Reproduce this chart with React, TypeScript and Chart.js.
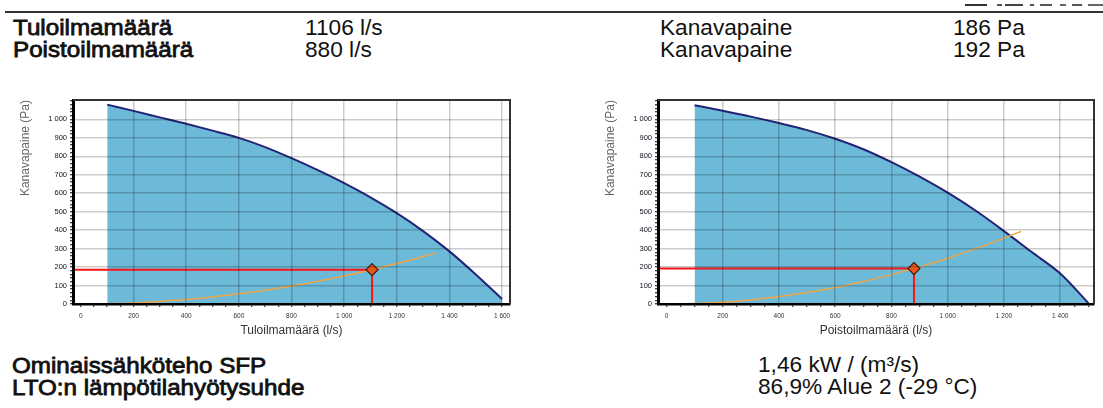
import React, { useEffect, useRef } from 'react';
import { Chart, registerables } from 'chart.js';

Chart.register(...registerables);
Chart.defaults.font.family = "'Liberation Sans', Arial, sans-serif";

// ---- Supply air (left chart) ----
const supplyFanX = [100, 200, 300, 400, 500, 600, 700, 800, 900, 1000, 1100, 1200, 1300, 1400, 1500, 1600];
const supplyFanP = [1080, 1046, 1011, 976, 939, 900, 850, 790, 725, 655, 578, 492, 395, 285, 160, 27];
const supplySysX = [0, 100, 200, 300, 400, 500, 600, 700, 800, 900, 1000, 1100, 1200, 1300, 1350];
const supplySysP = [0, 2, 6, 14, 24, 38, 55, 74, 97, 123, 152, 184, 219, 257, 277];
const supplyFlow = 1106;
const supplyPressure = 186;
const supplyXLabels = [0, 200, 400, 600, 800, 1000, 1200, 1400, 1600];

// ---- Exhaust air (right chart) ----
const exhaustFanX = [100, 200, 300, 400, 500, 600, 700, 800, 900, 1000, 1100, 1200, 1300, 1400, 1500];
const exhaustFanP = [1077, 1047, 1015, 980, 942, 895, 838, 768, 690, 603, 505, 395, 280, 165, 5];
const exhaustSysX = [0, 100, 200, 300, 400, 500, 600, 700, 800, 900, 1000, 1100, 1200, 1260];
const exhaustSysP = [0, 2.5, 10, 22, 40, 62, 89, 122, 159, 201, 248, 300, 357, 393];
const exhaustFlow = 880;
const exhaustPressure = 192;
const exhaustXLabels = [0, 200, 400, 600, 800, 1000, 1200, 1400];

const yLabels = [0, 100, 200, 300, 400, 500, 600, 700, 800, 900, 1000];

const fmt = (v: number) => String(v).replace(/\B(?=(\d{3})+(?!\d))/g, ' ');

const FILL = 'rgb(108,185,216)';
const NAVY = 'rgb(35,35,120)';
const ORANGE = 'rgb(240,165,70)';
const RED = 'rgb(250,20,20)';
const GRID = 'rgba(0,0,0,0.2)';

const framePlugin = {
  id: 'frame',
  afterDraw(chart: any) {
    const { ctx, chartArea: a } = chart;
    ctx.save();
    ctx.strokeStyle = '#333';
    ctx.lineWidth = 2;
    ctx.beginPath();
    ctx.moveTo(a.left, a.top);
    ctx.lineTo(a.right, a.top);
    ctx.lineTo(a.right, a.bottom);
    ctx.stroke();
    ctx.restore();
  },
};

type FanProps = {
  left: number;
  top: number;
  width: number;
  height: number;
  padRight: number;
  xMin: number;
  xMax: number;
  yMax: number;
  xLabels: number[];
  fanX: number[];
  fanP: number[];
  sysX: number[];
  sysP: number[];
  flow: number;
  pressure: number;
  xTitle: string;
};

function FanChart(p: FanProps) {
  const ref = useRef<HTMLCanvasElement>(null);
  useEffect(() => {
    const xMajor = new Set(p.xLabels);
    const yMajor = new Set(yLabels);
    const xMinor: number[] = [];
    for (let v = 0; v <= p.xMax; v += 50) xMinor.push(v);
    const yMinor: number[] = [];
    for (let v = 0; v <= p.yMax; v += 20) yMinor.push(v);

    const chart = new Chart(ref.current as HTMLCanvasElement, {
      type: 'line',
      data: {
        datasets: [
          {
            data: [{ x: p.flow, y: p.pressure }],
            showLine: false,
            pointStyle: 'rectRot',
            pointRadius: 6,
            pointBackgroundColor: 'rgb(235,85,25)',
            pointBorderColor: 'rgb(60,30,15)',
            pointBorderWidth: 1.2,
            order: 1,
          },
          {
            data: [
              { x: p.xMin, y: p.pressure },
              { x: p.flow, y: p.pressure },
            ],
            borderColor: RED,
            borderWidth: 2,
            pointRadius: 0,
            order: 2,
          },
          {
            data: [
              { x: p.flow, y: p.pressure },
              { x: p.flow, y: 0 },
            ],
            borderColor: RED,
            borderWidth: 2,
            pointRadius: 0,
            order: 2,
          },
          {
            data: p.sysX.map((x, i) => ({ x, y: p.sysP[i] })),
            borderColor: ORANGE,
            borderWidth: 1.5,
            pointRadius: 0,
            cubicInterpolationMode: 'monotone',
            order: 3,
          },
          {
            data: p.fanX.map((x, i) => ({ x, y: p.fanP[i] })),
            borderColor: NAVY,
            borderWidth: 2,
            backgroundColor: FILL,
            fill: 'origin',
            pointRadius: 0,
            cubicInterpolationMode: 'monotone',
            order: 4,
          },
        ],
      },
      options: {
        animation: false,
        responsive: false,
        devicePixelRatio: 1,
        layout: { padding: { top: 10, right: p.padRight, left: 0, bottom: 0 } },
        plugins: { legend: { display: false }, tooltip: { enabled: false } },
        scales: {
          x: {
            type: 'linear',
            min: p.xMin,
            max: p.xMax,
            afterBuildTicks: (axis: any) => {
              axis.ticks = xMinor.map((value) => ({ value }));
            },
            afterFit: (s: any) => {
              s.height = 36;
            },
            ticks: {
              autoSkip: false,
              maxRotation: 0,
              padding: 5,
              font: { size: 6.5 },
              color: '#333',
              callback: (v: any) => (xMajor.has(v) ? fmt(v) : ''),
            },
            grid: {
              z: 1,
              color: (c: any) => (c.tick && xMajor.has(c.tick.value) && c.tick.value !== 0 ? GRID : 'rgba(0,0,0,0)'),
              lineWidth: 1.5,
              tickLength: 3,
              tickColor: '#000',
              tickWidth: 1,
            },
            border: { color: '#000', width: 2.5, z: 2 },
            title: {
              display: true,
              text: p.xTitle,
              font: { size: 12 },
              color: '#333',
              padding: { top: 0, bottom: 2 },
            },
          },
          y: {
            type: 'linear',
            min: 0,
            max: p.yMax,
            afterBuildTicks: (axis: any) => {
              axis.ticks = yMinor.map((value) => ({ value }));
            },
            afterFit: (s: any) => {
              s.width = 73;
            },
            ticks: {
              autoSkip: false,
              padding: 3,
              font: { size: 7.5 },
              color: '#112',
              callback: (v: any) => (yMajor.has(v) ? fmt(v) : ''),
            },
            grid: {
              z: 1,
              color: (c: any) => (c.tick && yMajor.has(c.tick.value) && c.tick.value !== 0 ? GRID : 'rgba(0,0,0,0)'),
              lineWidth: 1.5,
              tickLength: 3,
              tickColor: '#000',
              tickWidth: 1,
            },
            border: { color: '#000', width: 3, z: 2 },
            title: {
              display: true,
              text: 'Kanavapaine (Pa)',
              align: 'end',
              font: { size: 12 },
              color: '#666',
              padding: { top: 18, bottom: 0 },
            },
          },
        },
      },
      plugins: [framePlugin],
    } as any);
    return () => chart.destroy();
  }, []);
  return (
    <canvas
      ref={ref}
      width={p.width}
      height={p.height}
      style={{ position: 'absolute', left: p.left, top: p.top, width: p.width, height: p.height }}
    />
  );
}

const textBase: React.CSSProperties = {
  position: 'absolute',
  fontFamily: "'Liberation Sans', Arial, sans-serif",
  fontSize: 22,
  lineHeight: '22px',
  color: '#111',
  whiteSpace: 'nowrap',
  transformOrigin: 'left center',
};

function T(props: { x: number; y: number; bold?: boolean; children: React.ReactNode }) {
  const style: React.CSSProperties = props.bold
    ? { ...textBase, left: props.x, top: props.y, transform: 'scaleX(1.1)', WebkitTextStroke: '0.8px #111' }
    : { ...textBase, left: props.x, top: props.y, transform: 'scaleX(1.03)' };
  return <div style={style}>{props.children}</div>;
}

export default function App() {
  return (
    <div
      style={{
        position: 'absolute',
        left: 0,
        top: 0,
        width: 1103,
        height: 408,
        overflow: 'hidden',
        background: '#fff',
      }}
    >
      {/* cut-off fragments at the top right */}
      <div style={{ position: 'absolute', left: 965, top: 4, width: 22, height: 2, background: '#333' }} />
      <div style={{ position: 'absolute', left: 997, top: 4, width: 5, height: 2, background: '#555' }} />
      <div style={{ position: 'absolute', left: 1005, top: 4, width: 18, height: 2, background: '#444' }} />
      <div style={{ position: 'absolute', left: 1030, top: 4, width: 4, height: 2, background: '#555' }} />
      <div style={{ position: 'absolute', left: 1040, top: 4, width: 12, height: 2, background: '#555' }} />
      <div style={{ position: 'absolute', left: 1060, top: 4, width: 6, height: 2, background: '#666' }} />
      <div style={{ position: 'absolute', left: 1072, top: 4, width: 10, height: 2, background: '#555' }} />
      <div style={{ position: 'absolute', left: 1088, top: 4, width: 15, height: 2, background: '#666' }} />
      <div style={{ position: 'absolute', left: 5, top: 11, width: 1098, height: 2, background: '#333' }} />

      <T x={13} y={17} bold>Tuloilmamäärä</T>
      <T x={305} y={17}>1106 l/s</T>
      <T x={660} y={17}>Kanavapaine</T>
      <T x={953} y={17}>186 Pa</T>
      <T x={13} y={39} bold>Poistoilmamäärä</T>
      <T x={305} y={39}>880 l/s</T>
      <T x={660} y={39}>Kanavapaine</T>
      <T x={953} y={39}>192 Pa</T>

      <FanChart
        left={0}
        top={90}
        width={530}
        height={250}
        padRight={20}
        xMin={-30}
        xMax={1630}
        yMax={1105}
        xLabels={supplyXLabels}
        fanX={supplyFanX}
        fanP={supplyFanP}
        sysX={supplySysX}
        sysP={supplySysP}
        flow={supplyFlow}
        pressure={supplyPressure}
        xTitle="Tuloilmamäärä (l/s)"
      />
      <FanChart
        left={585}
        top={90}
        width={518}
        height={250}
        padRight={9}
        xMin={-30}
        xMax={1520}
        yMax={1105}
        xLabels={exhaustXLabels}
        fanX={exhaustFanX}
        fanP={exhaustFanP}
        sysX={exhaustSysX}
        sysP={exhaustSysP}
        flow={exhaustFlow}
        pressure={exhaustPressure}
        xTitle="Poistoilmamäärä (l/s)"
      />

      <T x={12} y={355} bold>Ominaissähköteho SFP</T>
      <T x={758} y={354}>1,46 kW / (m³/s)</T>
      <T x={12} y={377} bold>LTO:n lämpötilahyötysuhde</T>
      <T x={758} y={376}>86,9% Alue 2 (-29 °C)</T>
    </div>
  );
}
